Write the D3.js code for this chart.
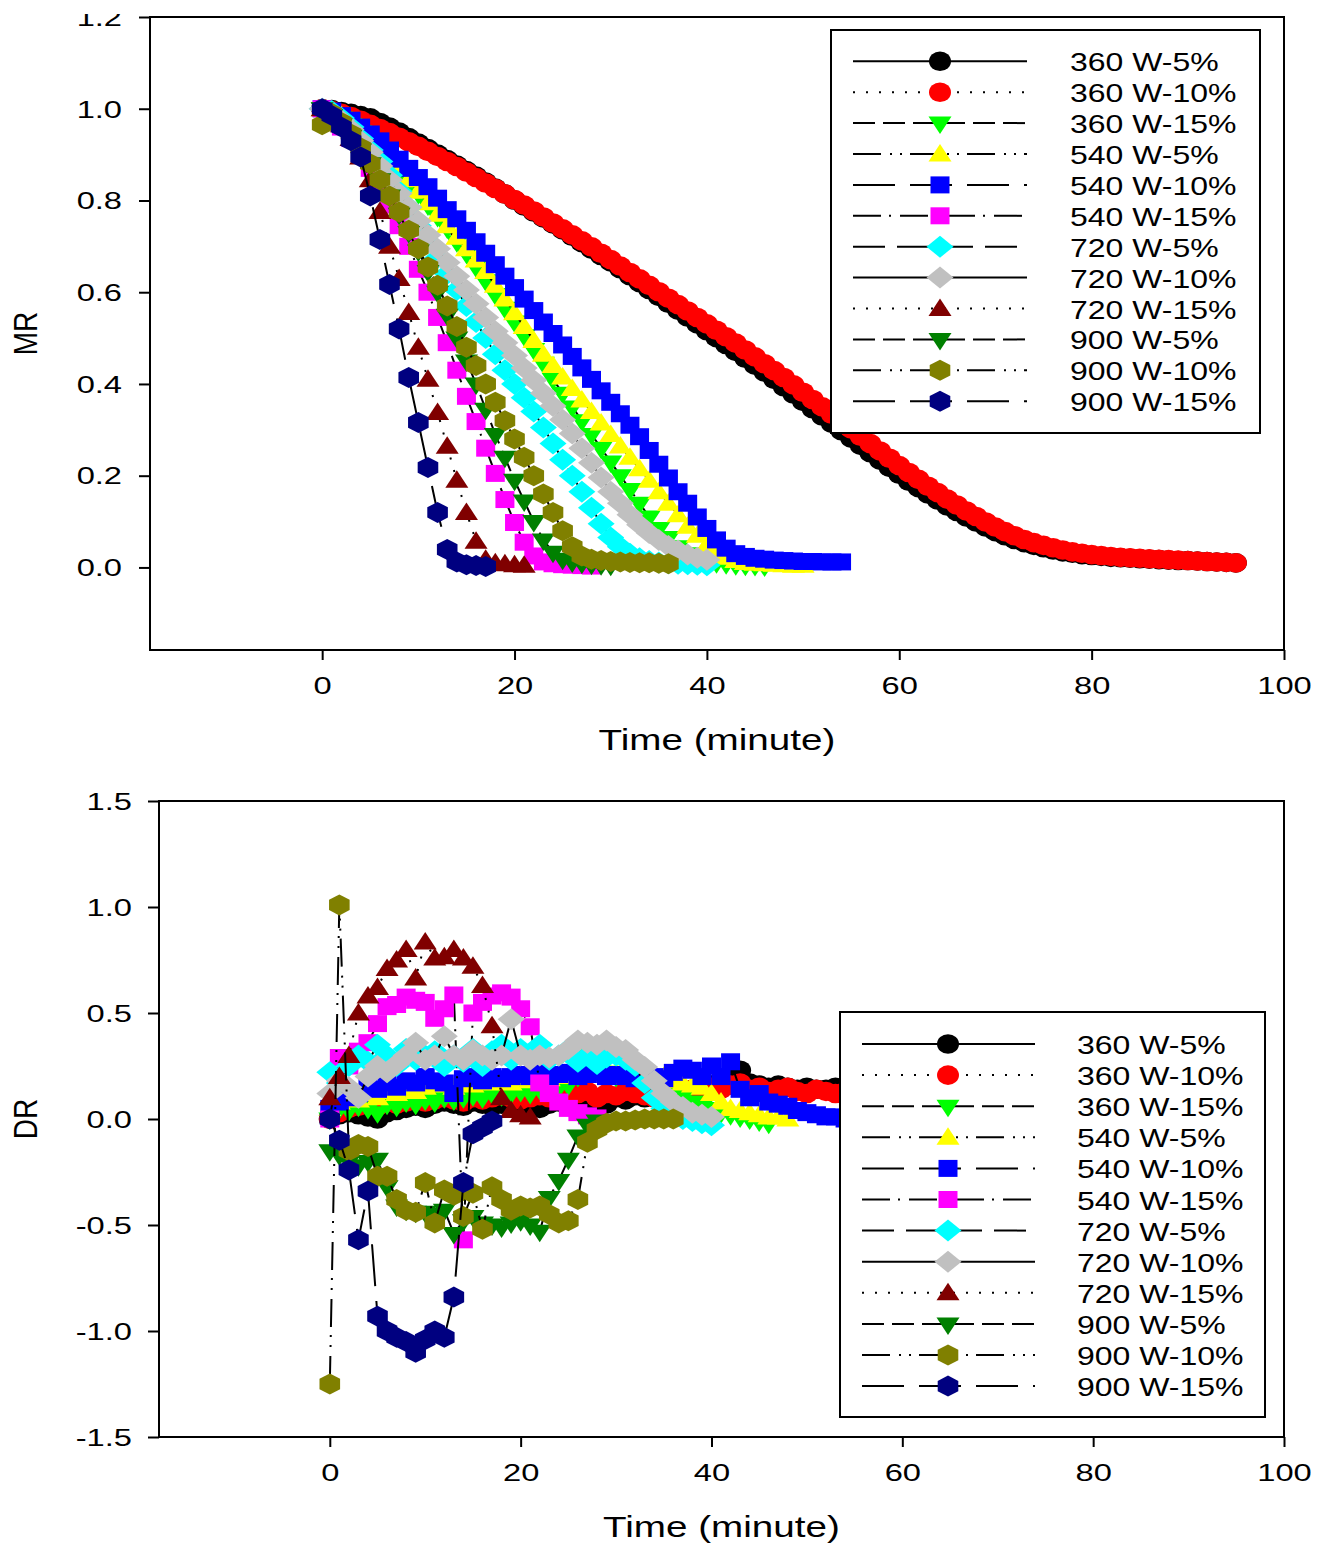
<!DOCTYPE html>
<html>
<head>
<meta charset="utf-8">
<script src="https://cdn.jsdelivr.net/npm/d3@7"></script>
<style>
  body { margin: 0; background: #fff; }
  svg text { font-family: "Liberation Sans", Arial, sans-serif; fill: #000; }
</style>
</head>
<body>
<svg id="chart" width="1323" height="1543"></svg>
<script>
// ---------------- data ----------------
// sampling times (minute)
var minutes = [0,1,2,3,4,5,6,7,8,9,10,11,12,13,14,15,16,17,18,19,20,21,22,23,24,25,26,27,28,29,
  30,31,32,33,34,35,36,37,38,39,40,41,42,43,44,45,46,47,48,49,50,51,52,53,54,55,56,57,58,59,
  60,61,62,63,64,65,66,67,68,69,70,71,72,73,74,75,76,77,78,79,80,81,82,83,84,85,86,87,88,89,
  90,91,92,93,94,95];

var seriesNames = ["360 W-5%", "360 W-10%", "360 W-15%", "540 W-5%", "540 W-10%", "540 W-15%",
  "720 W-5%", "720 W-10%", "720 W-15%", "900 W-5%", "900 W-10%", "900 W-15%"];

var timeTicks = [0, 20, 40, 60, 80, 100];
var mrTicks = [0, 0.2, 0.4, 0.6, 0.8, 1.0, 1.2];
var drTicks = [-1.5, -1.0, -0.5, 0, 0.5, 1.0, 1.5];

// moisture ratio (MR)
var mr360w5 = [1.0,.998,.994,.99,.985,.98,.97,.96,.949,.937,.925,.913,.901,.889,.877,.865,.853,.84,.827,.814,
  .801,.788,.775,.762,.749,.736,.722,.708,.694,.68,.666,.651,.636,.621,.606,.591,.576,.561,.546,.531,
  .516,.501,.486,.471,.456,.441,.426,.41,.394,.378,.362,.346,.33,.314,.298,.282,.266,.25,.234,.218,
  .203,.188,.174,.16,.147,.134,.122,.11,.099,.088,.078,.069,.061,.054,.048,.043,.038,.034,.031,.028,
  .026,.024,.022,.021,.02,.019,.018,.017,.016,.015,.015,.014,.013,.012,.011,.01];
var mr360w10 = [1.0,.996,.99,.983,.975,.966,.957,.948,.938,.928,.918,.907,.896,.885,.874,.862,.85,.838,.826,.814,
  .802,.79,.777,.764,.751,.738,.725,.712,.699,.685,.671,.657,.643,.629,.615,.601,.587,.573,.559,.545,
  .531,.517,.503,.489,.474,.459,.444,.429,.414,.398,.382,.366,.35,.334,.318,.302,.286,.27,.254,.238,
  .222,.207,.192,.177,.163,.149,.136,.123,.111,.099,.088,.078,.069,.061,.054,.048,.043,.038,.034,.031,
  .028,.026,.024,.022,.021,.02,.019,.018,.017,.016,.015,.014,.013,.012,.011,.01];
var mr360w15 = [1.0,.99,.98,.965,.95,.93,.91,.89,.865,.84,.815,.79,.765,.74,.71,.685,.655,.625,.595,.565,
  .535,.505,.475,.445,.41,.38,.35,.32,.29,.26,.23,.2,.17,.14,.11,.085,.065,.045,.03,.02,
  .014,.01,.008,.006,.005,.004,.003];
var mr540w5 = [1.0,.995,.985,.97,.955,.935,.915,.895,.87,.845,.82,.795,.77,.745,.72,.695,.67,.645,.615,.585,
  .555,.525,.495,.465,.44,.415,.39,.365,.34,.315,.29,.265,.24,.215,.19,.165,.14,.115,.09,.07,
  .05,.033,.022,.015,.011,.009,.008,.007,.006,.005,.005];
var mr540w10 = [1.0,.995,.985,.975,.96,.945,.93,.91,.89,.87,.85,.83,.805,.78,.76,.735,.71,.685,.66,.635,
  .61,.585,.56,.535,.51,.485,.46,.435,.41,.385,.36,.335,.31,.285,.255,.225,.195,.165,.14,.11,
  .085,.06,.042,.03,.024,.02,.018,.016,.015,.014,.013,.013,.012,.012,.012];
var mr540w15 = [1.0,.985,.96,.935,.905,.87,.83,.79,.745,.70,.65,.60,.545,.49,.43,.373,.318,.26,.205,.148,
  .098,.055,.025,.012,.008,.006,.005,.004,.003];
var mr720w5 = [1.0,.995,.98,.96,.935,.91,.885,.855,.82,.785,.745,.71,.675,.64,.605,.57,.535,.50,.465,.43,
  .40,.37,.34,.305,.27,.235,.20,.165,.13,.095,.065,.045,.03,.02,.014,.011,.009,.008,.007,.006,.005];
var mr720w10 = [1.0,.99,.975,.955,.93,.905,.875,.845,.815,.785,.755,.725,.695,.665,.635,.605,.575,.545,.515,.49,
  .462,.435,.408,.38,.352,.322,.292,.26,.228,.196,.165,.14,.115,.093,.075,.06,.047,.037,.028,.021,.017];
var mr720w15 = [1.0,.99,.965,.935,.895,.845,.776,.70,.63,.556,.48,.41,.338,.264,.19,.12,.057,.018,.01,.008,
  .006,.005];
var mr900w5 = [1.0,.985,.965,.94,.91,.88,.845,.81,.77,.73,.69,.645,.60,.55,.50,.45,.40,.345,.29,.24,
  .19,.145,.10,.06,.033,.018,.012,.009,.007,.006,.005];
var mr900w10 = [.965,.99,.97,.945,.915,.88,.845,.81,.775,.735,.695,.655,.615,.57,.525,.48,.44,.40,.36,.32,
  .28,.24,.20,.16,.12,.08,.045,.025,.018,.015,.013,.012,.011,.01,.01,.009,.008];
var mr900w15 = [1.0,.985,.96,.93,.895,.81,.715,.617,.52,.414,.316,.218,.12,.039,.012,.006,.004,.002];

// drying rate (DR)
var dr360w5 = [0,.02,.03,.02,.01,0,.03,.04,.05,.06,.05,.07,.08,.07,.06,.08,.07,.06,.07,.08,
  .06,.07,.05,.07,.08,.09,.10,.09,.08,.07,.10,.09,.11,.10,.12,.11,.13,.12,.14,.15,
  .16,.18,.20,.23,.17,.16,.15,.16,.15,.14,.15,.14,.14,.15,.14,.14];
var dr360w10 = [0,.03,.05,.06,.07,.06,.08,.07,.08,.09,.08,.09,.10,.09,.08,.10,.09,.10,.11,.10,
  .09,.10,.11,.10,.12,.11,.12,.13,.10,.12,.11,.13,.12,.11,.10,.12,.13,.12,.14,.13,
  .15,.14,.16,.17,.14,.15,.13,.14,.15,.13,.12,.14,.13,.12,.13,.12];
var dr360w15 = [0,.05,.04,.06,.05,.03,.07,.06,.08,.07,.09,.08,.10,.09,.10,.11,.10,.12,.11,.12,
  .13,.12,.14,.13,.15,.16,.20,.31,.25,.22,.20,.22,.21,.20,.18,.16,.12,.10,.08,.06,
  .05,.03,.02,.01,0,-.01,-.02];
var dr540w5 = [.05,.08,.10,.09,.12,.10,.13,.12,.14,.13,.15,.16,.17,.15,.17,.16,.18,.17,.18,.17,
  .19,.18,.20,.19,.20,.21,.22,.25,.27,.24,.22,.20,.21,.20,.19,.20,.18,.17,.16,.15,
  .12,.08,.05,.04,.03,.02,.01,.01,0];
var dr540w10 = [.05,.08,.10,.12,.15,.14,.17,.15,.18,.17,.20,.18,.17,.12,.19,.20,.18,.20,.19,.20,
  .21,.20,.22,.20,.21,.22,.20,.21,.22,.20,.21,.20,.19,.21,.20,.19,.22,.24,.23,.20,
  .25,.20,.27,.14,.10,.12,.08,.07,.06,.04,.03,.02,.01,.01,0];
var dr540w15 = [0,.29,.25,.32,.36,.45,.53,.54,.575,.56,.55,.475,.52,.585,-.57,.50,.55,.58,.595,.575,
  .52,.435,.17,.12,.08,.05,.03,.015,.005];
var dr720w5 = [.22,.17,.25,.30,.27,.35,.30,.25,.33,.28,.30,.32,.25,.30,.27,.33,.25,.32,.35,.28,
  .33,.30,.35,.28,.30,.33,.27,.30,.26,.29,.30,.28,.25,.17,.10,.05,.02,0,-.01,-.02,-.03];
var dr720w10 = [.12,.18,.15,.10,.20,.25,.22,.26,.30,.36,.28,.30,.39,.30,.28,.325,.30,.28,.30,.47,
  .30,.28,.30,.29,.30,.33,.37,.36,.35,.37,.34,.325,.28,.245,.18,.12,.08,.057,.03,.02,.01];
var dr720w15 = [.10,.20,.30,.50,.58,.62,.71,.75,.80,.665,.835,.76,.765,.80,.76,.72,.63,.44,.10,.04,
  .02,.01];
var dr900w5 = [-.15,-.17,-.20,-.22,-.20,-.19,-.32,-.41,-.43,-.44,-.44,-.45,-.43,-.54,-.48,-.46,-.49,-.50,-.51,-.49,
  -.48,-.50,-.53,-.37,-.29,-.19,-.08,-.03,-.01];
var dr900w10 = [-1.25,1.01,-.15,-.12,-.13,-.27,-.27,-.38,-.43,-.44,-.30,-.49,-.335,-.36,-.46,-.35,-.52,-.32,-.38,-.43,
  -.41,-.42,-.41,-.45,-.49,-.48,-.38,-.11,-.05,-.02,-.01,-.01,-.005,0,0,0,0];
var dr900w15 = [0,-.10,-.24,-.57,-.34,-.93,-1.0,-1.03,-1.05,-1.1,-1.04,-1.0,-1.03,-.84,-.30,-.07,-.04,-.01];

// ---------------- styles ----------------
var seriesColors = ["#000000", "#ff0000", "#00ff00", "#ffff00", "#0000ff", "#ff00ff",
  "#00ffff", "#c0c0c0", "#800000", "#008000", "#808000", "#000080"];
var seriesShapes = ["circle", "circle", "triDown", "triUp", "square", "square",
  "diamond", "diamond", "triUp", "triDown", "hexagon", "hexagon"];
var seriesDashes = [null, "2,11", "22,8", "28,9,2,8,2,8", "42,15", "28,8,2,9", "32,12",
  null, "2,11", "22,8", "28,9,2,8,2,8", "42,15"];

var shapePaths = {
  circle: "M-11,0A11,9.8 0 1,1 11,0A11,9.8 0 1,1 -11,0Z",
  square: "M-9.5,-8.5H9.5V8.5H-9.5Z",
  triUp: "M0,-10L11.5,7.5L-11.5,7.5Z",
  triDown: "M0,11L11.5,-6.5L-11.5,-6.5Z",
  diamond: "M0,-11L13.5,0L0,11L-13.5,0Z",
  hexagon: "M0,-10.5L10.3,-5.2L10.3,5.2L0,10.5L-10.3,5.2L-10.3,-5.2Z"
};

var mrSeries = [mr360w5, mr360w10, mr360w15, mr540w5, mr540w10, mr540w15,
  mr720w5, mr720w10, mr720w15, mr900w5, mr900w10, mr900w15];
var drSeries = [dr360w5, dr360w10, dr360w15, dr540w5, dr540w10, dr540w15,
  dr720w5, dr720w10, dr720w15, dr900w5, dr900w10, dr900w15];

var svg = d3.select("#chart");

// the original picture is cut just above the top frame
svg.append("clipPath").attr("id", "crop")
  .append("rect").attr("x", 0).attr("y", 14).attr("width", 1323).attr("height", 1529);
var root = svg.append("g").attr("clip-path", "url(#crop)");

function drawPanel(p, values) {
  var x = d3.scaleLinear().domain([-17.9, 100]).range([p.left, p.right]);
  var y = d3.scaleLinear().domain(p.yDomain).range([p.bottom, p.top]);
  var g = root.append("g");

  // series: line first, then its symbols
  var line = d3.line().x(function(d) { return x(d.t); }).y(function(d) { return y(d.v); });
  values.forEach(function(vals, i) {
    var pts = vals.map(function(v, k) { return {t: minutes[k], v: v}; });
    g.append("path")
      .datum(pts)
      .attr("d", line)
      .attr("fill", "none")
      .attr("stroke", "#000")
      .attr("stroke-width", 2)
      .attr("stroke-dasharray", seriesDashes[i]);
    g.append("g").selectAll("path")
      .data(pts)
      .enter().append("path")
        .attr("d", shapePaths[seriesShapes[i]])
        .attr("transform", function(d) { return "translate(" + x(d.t) + "," + y(d.v) + ")"; })
        .attr("fill", seriesColors[i]);
  });

  // frame
  g.append("rect")
    .attr("x", p.left).attr("y", p.top)
    .attr("width", p.right - p.left).attr("height", p.bottom - p.top)
    .attr("fill", "none").attr("stroke", "#000").attr("stroke-width", 2);

  // left axis
  var tickSx = 1.42;
  var gy = g.append("g")
    .attr("transform", "translate(" + p.left + ",0)")
    .call(d3.axisLeft(y).tickValues(p.yTicks).tickSize(11).tickFormat(function(d) { return d.toFixed(1); }));
  gy.attr("font-size", 23).attr("font-family", null);
  gy.select(".domain").remove();
  gy.selectAll(".tick line").attr("stroke", "#000").attr("stroke-width", 2);
  gy.selectAll(".tick text")
    .attr("x", -(p.left - p.labelRight) / tickSx)
    .attr("dy", "0.36em")
    .attr("transform", "scale(" + tickSx + ",1)");

  // bottom axis
  var gx = g.append("g")
    .attr("transform", "translate(0," + p.bottom + ")")
    .call(d3.axisBottom(x).tickValues(timeTicks).tickSize(10));
  gx.attr("font-size", 23).attr("font-family", null);
  gx.select(".domain").remove();
  gx.selectAll(".tick line").attr("stroke", "#000").attr("stroke-width", 2);
  gx.selectAll(".tick text")
    .attr("y", p.tickBase - p.bottom)
    .attr("dy", 0)
    .attr("transform", "scale(" + tickSx + ",1)");

  // axis titles
  g.append("text")
    .attr("transform", "translate(" + (p.left + p.right) / 2 + "," + p.titleBase + ") scale(1.31,1)")
    .attr("text-anchor", "middle")
    .attr("font-size", 29.5)
    .text("Time (minute)");
  g.append("text")
    .attr("transform", "translate(37," + (p.top + p.bottom) / 2 + ") scale(1.2,1) rotate(-90)")
    .attr("text-anchor", "middle")
    .attr("font-size", 28)
    .text(p.yTitle);

  // legend
  var L = p.legend;
  var gl = g.append("g");
  gl.append("rect")
    .attr("x", L.x0).attr("y", L.y0)
    .attr("width", L.x1 - L.x0).attr("height", L.y1 - L.y0)
    .attr("fill", "#fff").attr("stroke", "#000").attr("stroke-width", 2);
  var rows = gl.selectAll("g.row")
    .data(seriesNames)
    .enter().append("g")
      .attr("class", "row")
      .attr("transform", function(d, i) { return "translate(0," + (L.row0 + i * L.step) + ")"; });
  rows.append("line")
    .attr("x1", L.lineX0).attr("x2", L.lineX1)
    .attr("stroke", "#000").attr("stroke-width", 2)
    .attr("stroke-dasharray", function(d, i) { return seriesDashes[i]; });
  rows.append("path")
    .attr("d", function(d, i) { return shapePaths[seriesShapes[i]]; })
    .attr("transform", "translate(" + L.markX + ",0)")
    .attr("fill", function(d, i) { return seriesColors[i]; });
  rows.append("text")
    .attr("transform", "translate(" + L.textX + ",10) scale(1.28,1)")
    .attr("font-size", 25)
    .text(function(d) { return d; });
}

drawPanel({
  left: 150, right: 1284, top: 17, bottom: 650,
  yDomain: [-0.18, 1.2], yTicks: mrTicks, yTitle: "MR",
  labelRight: 122, tickBase: 694, titleBase: 750,
  legend: {x0: 831, y0: 30, x1: 1260, y1: 433, row0: 61.3, step: 30.9,
    lineX0: 853, lineX1: 1027, markX: 940, textX: 1070}
}, mrSeries);

drawPanel({
  left: 159, right: 1284, top: 801, bottom: 1437,
  yDomain: [-1.5, 1.5], yTicks: drTicks, yTitle: "DR",
  labelRight: 132, tickBase: 1481, titleBase: 1537,
  legend: {x0: 840, y0: 1012, x1: 1265, y1: 1417, row0: 1044, step: 31.1,
    lineX0: 862, lineX1: 1035, markX: 948, textX: 1077}
}, drSeries);
</script>
</body>
</html>
